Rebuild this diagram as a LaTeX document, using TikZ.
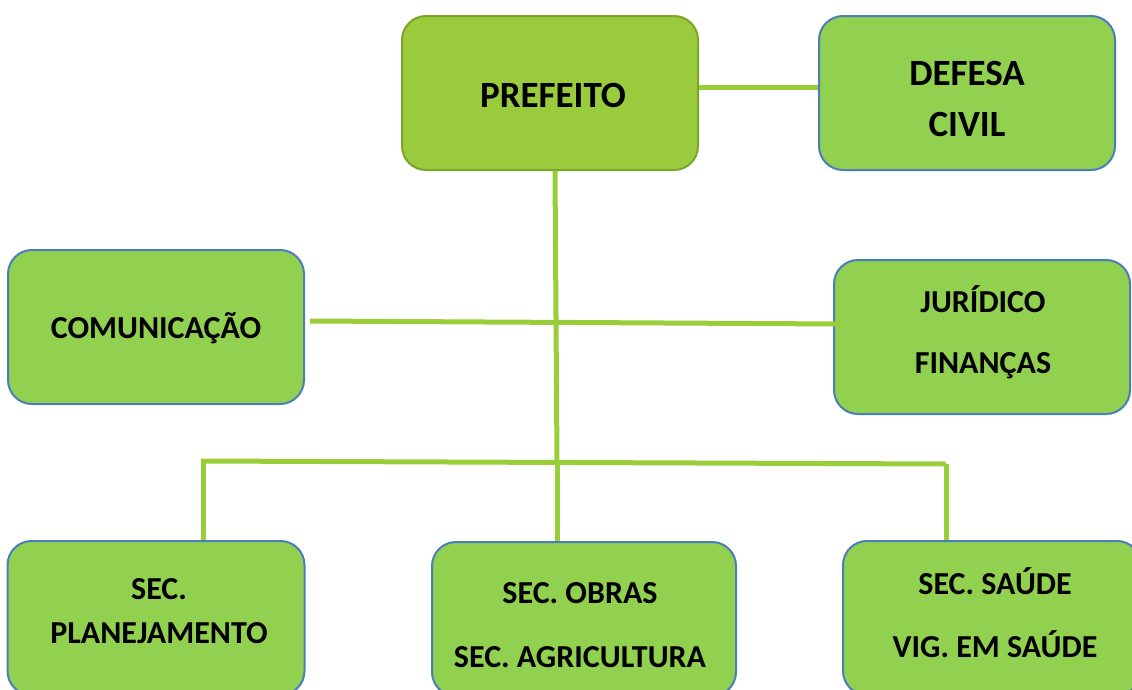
\documentclass[tikz,border=0pt]{standalone}
\usepackage{fontspec}
\setmainfont{Carlito}
\usetikzlibrary{positioning}

\definecolor{boxgreen}{HTML}{92D050}
\definecolor{topgreen}{HTML}{9ACB3C}
\definecolor{topedge}{HTML}{7BA428}
\definecolor{boxedge}{HTML}{4A7EBB}
\definecolor{linegreen}{HTML}{9ACD3A}

\begin{document}
\begin{tikzpicture}[x=1pt, y=-1pt,
    every node/.style={font=\bfseries, align=center},
    box/.style={draw=boxedge, line width=2pt, fill=boxgreen, rounded corners=24pt,
        minimum width=296pt, minimum height=154pt, inner sep=0pt},
    big/.style={font=\bfseries\fontsize{37}{51}\selectfont},
    small/.style={font=\bfseries\fontsize{32}{42}\selectfont},
    link/.style={draw=linegreen, line width=5pt}]
    \useasboundingbox (0,0) rectangle (1132,689);
    \clip (0,0) rectangle (1132,689);

    % boxes
    \node[box, fill=topgreen, draw=topedge] (prefeito) at (550,93) {};
    \node[box] (defesa) at (967,93) {};
    \node[box] (comunicacao) at (156,327) {};
    \node[box] (juridico) at (982,337) {};
    \node[box, minimum width=297pt] (planej) at (156,618) {};
    \node[box, minimum width=304pt] (obras) at (584,619) {};
    \node[box, minimum width=298pt] (saude) at (992,618) {};

    % texts
    \node[big] (prefeitoTxt) at ([shift={(3,2)}]prefeito) {PREFEITO};
    \node[big] (defesaTxt) at ([shift={(0,6)}]defesa) {DEFESA\\CIVIL};
    \node[small] (comunicacaoTxt) at ([shift={(0,1)}]comunicacao) {COMUNICAÇÃO};
    \node[small] (juridicoTxt) at ([shift={(1,-5)}]juridico) {JURÍDICO\\[19pt]FINANÇAS};
    \node[small] (planejTxt) at ([shift={(3,-7)}]planej) {SEC.\\[2pt]PLANEJAMENTO};
    \node[small] (obrasTxt) at ([shift={(-4,6)}]obras) {SEC. OBRAS\\[22pt]SEC. AGRICULTURA};
    \node[small] (saudeTxt) at ([shift={(3,-5)}]saude) {SEC. SAÚDE\\[21pt]VIG. EM SAÚDE};

    \coordinate (bus) at (557,463);
    \coordinate (busL) at (201,461);
    \coordinate (busR) at (946,464);

    % connectors
    \draw[link] ([yshift=6pt]prefeito.east) -- ([yshift=6pt]defesa.west);
    \draw[link] ([xshift=5pt]prefeito.south) -- (bus);
    \draw[link] ([shift={(5,-6)}]comunicacao.east) -- ([shift={(9,-13)}]juridico.west);
    \draw[link] (busL) -- (busR);
    \draw[link] ([xshift=2pt]busL) -- ([xshift=2pt]busL |- planej.north);
    \draw[link] (bus) -- (bus |- obras.north);
    \draw[link] (busR) -- (busR |- saude.north);
\end{tikzpicture}
\end{document}
